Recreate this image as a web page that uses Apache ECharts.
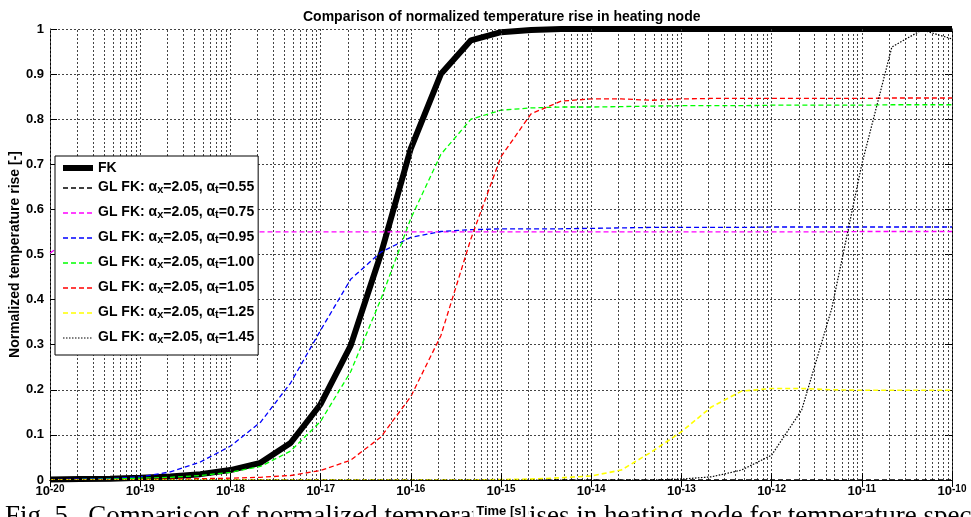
<!DOCTYPE html>
<html>
<head>
<meta charset="utf-8">
<script src="https://cdn.jsdelivr.net/npm/echarts@6/dist/echarts.min.js"></script>
<style>
html, body { margin: 0; padding: 0; background: #fff; }
#chart { width: 971px; height: 517px; }
</style>
</head>
<body>
<div id="chart"></div>
<script>
// sample times [s], one point every third of a decade
const timeS = [
  1e-20, 2.154e-20, 4.642e-20, 1e-19, 2.154e-19, 4.642e-19,
  1e-18, 2.154e-18, 4.642e-18, 1e-17, 2.154e-17, 4.642e-17,
  1e-16, 2.154e-16, 4.642e-16, 1e-15, 2.154e-15, 4.642e-15,
  1e-14, 2.154e-14, 4.642e-14, 1e-13, 2.154e-13, 4.642e-13,
  1e-12, 2.154e-12, 4.642e-12, 1e-11, 2.154e-11, 4.642e-11, 1e-10
]

const fk = [0.001, 0.002, 0.003, 0.005, 0.008, 0.013, 0.022, 0.038, 0.082, 0.168, 0.298, 0.500,
  0.735, 0.900, 0.975, 0.993, 0.998, 1, 1, 1, 1, 1, 1, 1, 1, 1, 1, 1, 1, 1, 1]
const gl055 = [0, 0, 0, 0, 0, 0, 0, 0, 0, 0, 0, 0, 0, 0, 0, 0, 0, 0, 0, 0, 0, 0, 0, 0, 0, 0, 0, 0, 0, 0, 0]
const gl075 = [0.503, 0.549, 0.550, 0.550, 0.550, 0.550, 0.550, 0.550, 0.550, 0.550, 0.550, 0.550,
  0.550, 0.550, 0.550, 0.550, 0.550, 0.550, 0.550, 0.550, 0.550, 0.550, 0.550, 0.550,
  0.550, 0.550, 0.550, 0.551, 0.551, 0.551, 0.551]
const gl095 = [0.001, 0.002, 0.003, 0.007, 0.018, 0.040, 0.075, 0.128, 0.215, 0.332, 0.445, 0.505,
  0.538, 0.551, 0.555, 0.557, 0.557, 0.557, 0.558, 0.559, 0.560, 0.560, 0.560, 0.560,
  0.561, 0.561, 0.561, 0.561, 0.561, 0.561, 0.561]
const gl100 = [0.001, 0.001, 0.002, 0.004, 0.006, 0.010, 0.017, 0.030, 0.064, 0.130, 0.240, 0.400,
  0.580, 0.722, 0.800, 0.820, 0.825, 0.827, 0.827, 0.828, 0.829, 0.830, 0.830, 0.830,
  0.831, 0.831, 0.831, 0.831, 0.832, 0.832, 0.832]
const gl105 = [0, 0, 0.001, 0.001, 0.002, 0.003, 0.004, 0.006, 0.010, 0.021, 0.044, 0.095,
  0.185, 0.320, 0.535, 0.717, 0.812, 0.840, 0.845, 0.845, 0.842, 0.845, 0.846, 0.846,
  0.846, 0.846, 0.846, 0.846, 0.847, 0.847, 0.847]
const gl125 = [0, 0, 0, 0, 0, 0, 0, 0, 0, 0, 0, 0, 0, 0, 0, 0.001, 0.002, 0.005, 0.009, 0.022,
  0.062, 0.107, 0.162, 0.197, 0.203, 0.203, 0.200, 0.199, 0.199, 0.199, 0.199]
const gl145 = [0, 0, 0, 0, 0, 0, 0, 0, 0, 0, 0, 0, 0, 0, 0, 0, 0, 0, 0, 0, 0, 0.002, 0.007,
  0.022, 0.055, 0.155, 0.380, 0.700, 0.960, 0.998, 0.978]

const alphaX = '2.05'
const alphaT = ['0.55', '0.75', '0.95', '1.00', '1.05', '1.25', '1.45']
const glColors = ['#000000', '#ff00ff', '#0000ff', '#00ff00', '#ff0000', '#ffff00', '#000000']
const glValues = [gl055, gl075, gl095, gl100, gl105, gl125, gl145]

// tick labels (decade exponents) and minor grid multipliers
const xTickExp = [-20, -19, -18, -17, -16, -15, -14, -13, -12, -11, -10]
const minorMult = [2, 3, 4, 5, 6, 7, 8, 9]

const font = "'Liberation Sans', Arial, sans-serif"
const glName = (a) => `GL FK: αx=${alphaX}, αt=${a}`

const minorLines = []
xTickExp.slice(0, -1).forEach(e => {
  minorMult.forEach(m => minorLines.push({ xAxis: m * Math.pow(10, e) }))
})

const pairs = (vals) => timeS.map((t, i) => [t, vals[i]])

const series = [
  {
    // carrier for the minor decade gridlines
    name: 'grid',
    type: 'line',
    data: [[1e-20, 0]],
    symbol: 'none',
    showSymbol: false,
    silent: true,
    z: 1,
    lineStyle: { width: 0 },
    markLine: {
      silent: true,
      symbol: 'none',
      precision: 20,
      z: 1,
      animation: false,
      label: { show: false },
      lineStyle: { color: '#444', type: [2, 2], width: 1 },
      emphasis: { disabled: true },
      data: minorLines
    }
  },
  {
    name: 'FK',
    type: 'line',
    showSymbol: false,
    symbol: 'none',
    lineStyle: { color: '#000', width: 6 },
    itemStyle: { color: '#000' },
    data: pairs(fk)
  }
]

alphaT.forEach((a, i) => {
  let type = [5, 3]
  let width = 1.3
  if (a === '1.45') { type = [1.5, 1.5]; width = 1.2 }
  if (a === '1.25') width = 1.6
  series.push({
    name: glName(a),
    type: 'line',
    showSymbol: false,
    symbol: 'none',
    lineStyle: { color: glColors[i], width, type },
    itemStyle: { color: glColors[i] },
    data: pairs(glValues[i])
  })
})

const chart = echarts.init(document.getElementById('chart'))

const option = {
  animation: false,
  backgroundColor: '#fff',
  title: {
    text: 'Comparison of normalized temperature rise in heating node',
    left: 298,
    top: 5,
    textStyle: { fontFamily: font, fontSize: 14, fontWeight: 'bold', color: '#000' }
  },
  grid: {
    left: 50,
    right: 19,
    top: 29,
    bottom: 37,
    outerBoundsMode: 'none'
  },
  legend: {
    orient: 'vertical',
    left: 55,
    top: 156,
    z: 10,
    data: ['FK'].concat(alphaT.map(glName)),
    backgroundColor: '#fff',
    borderColor: '#000',
    borderWidth: 1,
    borderRadius: 0,
    padding: [5, 4, 5, 5],
    itemWidth: 30,
    itemHeight: 10,
    itemGap: 1,
    selectedMode: false,
    itemStyle: { opacity: 0 },
    lineStyle: { width: 'inherit' },
    formatter: (name) => {
      if (name === 'FK') return '{f|FK}'
      const a = name.split('αt=')[1]
      return `{b|GL FK: α}{s|x}{b|=${alphaX}, α}{s|t}{b|=${a}}`
    },
    textStyle: {
      fontFamily: font,
      fontSize: 14,
      fontWeight: 'bold',
      color: '#000',
      rich: {
        f: { fontFamily: font, fontSize: 14, fontWeight: 'bold', lineHeight: 14 },
        b: { fontFamily: font, fontSize: 14, fontWeight: 'bold', lineHeight: 14, padding: [4, 0, 6, 0] },
        s: { fontFamily: font, fontSize: 11, fontWeight: 'bold', lineHeight: 11, verticalAlign: 'bottom' }
      }
    }
  },
  xAxis: [
    {
      type: 'log',
      logBase: 10,
      min: 1e-20,
      max: 1e-10,
      interval: 1,
      z: 5,
      axisLine: { show: true, onZero: false, lineStyle: { color: '#000', width: 1 } },
      axisTick: { show: true, inside: true, length: 7, lineStyle: { color: '#000' } },
      axisLabel: {
        margin: 4,
        hideOverlap: false,
        showMinLabel: true,
        showMaxLabel: true,
        formatter: (v) => `{b|10}{sup|${Math.round(Math.log10(v))}}`,
        rich: {
          b: { fontFamily: font, fontSize: 13, fontWeight: 'bold', color: '#000', lineHeight: 14, verticalAlign: 'bottom' },
          sup: { fontFamily: font, fontSize: 10, fontWeight: 'bold', color: '#000', lineHeight: 10, padding: [0, 0, 8, 0], verticalAlign: 'top' }
        }
      },
      splitLine: { show: true, lineStyle: { color: '#444', type: [2, 2], width: 1 } },
      name: 'Time [s]',
      nameLocation: 'middle',
      nameGap: 25,
      nameMoveOverlap: false,
      nameTextStyle: {
        fontFamily: font, fontSize: 13, fontWeight: 'bold', color: '#000',
        backgroundColor: '#fff', padding: [0, 3, 3, 3], align: 'center'
      }
    },
    {
      type: 'log',
      logBase: 10,
      min: 1e-20,
      max: 1e-10,
      interval: 1,
      position: 'top',
      axisLine: { show: true, lineStyle: { color: '#000', width: 1 } },
      axisTick: { show: true, inside: true, length: 7, lineStyle: { color: '#000' } },
      axisLabel: { show: false },
      splitLine: { show: false }
    }
  ],
  yAxis: [
    {
      type: 'value',
      min: 0,
      max: 1,
      interval: 0.1,
      axisLine: { show: true, onZero: false, lineStyle: { color: '#000', width: 1 } },
      axisTick: { show: true, inside: true, length: 7, lineStyle: { color: '#000' } },
      axisLabel: {
        margin: 6,
        fontFamily: font,
        fontSize: 13,
        fontWeight: 'bold',
        color: '#000',
        formatter: (v) => (v === 0 || v === 1) ? String(v) : v.toFixed(1)
      },
      splitLine: { show: true, lineStyle: { color: '#444', type: [2, 2], width: 1 } },
      name: 'Normalized temperature rise [-]',
      nameLocation: 'middle',
      nameGap: 28,
      nameMoveOverlap: false,
      nameTextStyle: { fontFamily: font, fontSize: 14, fontWeight: 'bold', color: '#000' }
    },
    {
      type: 'value',
      min: 0,
      max: 1,
      interval: 0.1,
      position: 'right',
      axisLine: { show: true, lineStyle: { color: '#000', width: 1 } },
      axisTick: { show: true, inside: true, length: 7, lineStyle: { color: '#000' } },
      axisLabel: { show: false },
      splitLine: { show: false }
    }
  ],
  graphic: [
    {
      type: 'text',
      left: 5,
      top: 503,
      z: -10,
      silent: true,
      style: {
        text: 'Fig. 5.  Comparison of normalized temperature rises in heating node for temperature spec',
        font: "27px 'Liberation Serif', 'Times New Roman', serif",
        fill: '#000'
      }
    }
  ],
  series
}

chart.setOption(option)
</script>
</body>
</html>
